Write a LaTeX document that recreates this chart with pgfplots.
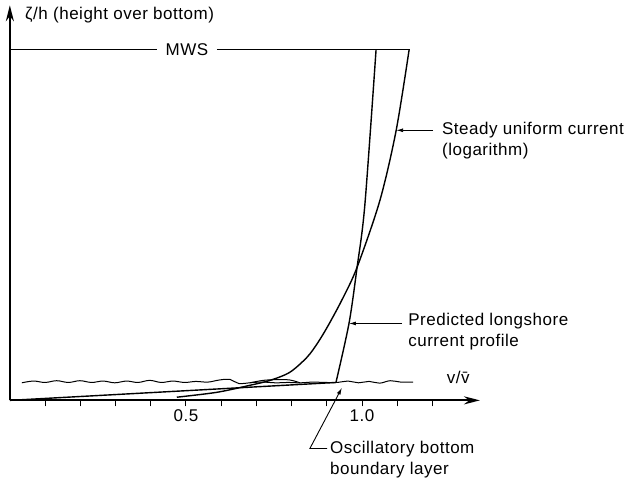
\documentclass[border=0pt]{standalone}
\usepackage{fontspec}
\setmainfont{Liberation Sans}[LetterSpace=3]
\usepackage{pgfplots}
\pgfplotsset{compat=1.18}
\usetikzlibrary{arrows.meta}
\newcommand{\lab}{\fontsize{17}{20.5}\selectfont}

\begin{document}
\begin{tikzpicture}
\begin{axis}[
  scale only axis, width=470pt, height=395pt,
  xmin=0, xmax=1.335, ymin=0, ymax=1.125,
  axis lines=left,
  axis line style={line width=2.2pt, -{Stealth[length=16pt,width=8pt]}},
  xtick={0.1,0.2,0.3,0.4,0.5,0.6,0.7,0.8,0.9,1.0,1.1,1.2},
  xticklabels={,,,,0.5,,,,,1.0,,},
  ytick=\empty,
  tick align=outside, major tick length=6pt,
  every tick/.style={black, line width=1pt},
  /pgf/number format/assume math mode=true,
  ticklabel style={font=\lab},
  clip=false,
]
% MWS line
\addplot[black, line width=1.3pt] coordinates {(0,1) (0.418,1)};
\addplot[black, line width=1.3pt] coordinates {(0.588,1) (1.134,1)};
% predicted longshore current profile
\addplot[black, line width=1.4pt] coordinates {(0,0) (0.926,0.051)};
\addplot[black, line width=1.4pt, smooth, tension=0.5] coordinates {
  (0.926,0.051) (0.963,0.219) (0.986,0.379) (1.008,0.556) (1.040,1.0)};
% steady uniform current (logarithm)
\addplot[black, line width=1.4pt, smooth, tension=0.5] coordinates {
  (0.474,0.009) (0.588,0.023) (0.682,0.043) (0.739,0.057) (0.795,0.080)
  (0.844,0.123) (0.875,0.165) (0.905,0.215) (0.945,0.290) (0.986,0.379)
  (1.051,0.570) (1.097,0.769) (1.134,1.0)};
% oscillatory boundary layer top (wavy)
\addplot[black, line width=1.0pt, smooth, tension=0.6] coordinates {
  (0.034,0.050) (0.067,0.055) (0.100,0.051) (0.133,0.056) (0.166,0.051)
  (0.199,0.056) (0.232,0.051) (0.265,0.055) (0.298,0.050) (0.331,0.055)
  (0.364,0.051) (0.397,0.057) (0.430,0.051) (0.463,0.055) (0.496,0.051)
  (0.529,0.054) (0.562,0.052) (0.595,0.058) (0.625,0.060) (0.650,0.048)
  (0.690,0.051) (0.720,0.052) (0.755,0.050) (0.790,0.051) (0.825,0.050)
  (0.860,0.052) (0.895,0.051) (0.930,0.051) (0.960,0.055) (0.990,0.050)
  (1.020,0.054) (1.050,0.049) (1.080,0.056) (1.110,0.052) (1.145,0.052)};
% boundary layer profile hump
\addplot[black, line width=1.0pt, smooth, tension=0.6] coordinates {
  (0.682,0.050) (0.720,0.057) (0.760,0.059) (0.795,0.058) (0.824,0.050)};

% labels
\node[anchor=west, inner sep=0pt, font=\lab] at (axis cs:0.043,1.097) {ζ/h (height over bottom)};
\node[fill=white, inner sep=2pt, font=\lab] at (axis cs:0.503,1.0) {MWS};
\node[font=\lab] at (axis cs:1.273,0.066) {v/\=v};

\draw[line width=0.9pt, -{Latex[length=7pt,width=4pt]}] (axis cs:1.202,0.769) -- (axis cs:1.097,0.769);
\node[anchor=west, inner sep=0pt, align=left, font=\lab] at (axis cs:1.227,0.740) {Steady uniform current\\(logarithm)};

\draw[line width=0.9pt, -{Latex[length=7pt,width=4pt]}] (axis cs:1.114,0.219) -- (axis cs:0.963,0.219);
\node[anchor=west, inner sep=0pt, align=left, font=\lab] at (axis cs:1.131,0.196) {Predicted longshore\\current profile};

\draw[line width=0.9pt, -{Latex[length=7pt,width=4pt]}] (axis cs:0.901,-0.137) -- (axis cs:0.852,-0.137) -- (axis cs:0.943,0.036);
\node[anchor=west, inner sep=0pt, align=left, font=\lab] at (axis cs:0.909,-0.168) {Oscillatory bottom\\boundary layer};

\coordinate (bl) at (axis cs:-0.028,-0.239);
\coordinate (tr) at (axis cs:1.761,1.140);
\end{axis}
\pgfresetboundingbox
\path[use as bounding box] (bl) rectangle (tr);
\end{tikzpicture}
\end{document}
